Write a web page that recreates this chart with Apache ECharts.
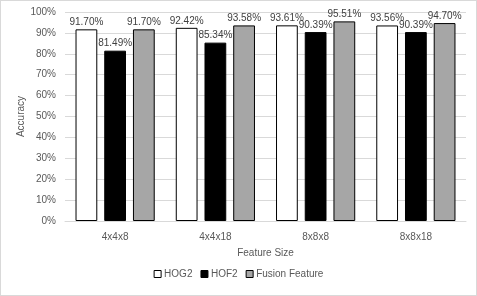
<!DOCTYPE html>
<html>
<head>
<meta charset="utf-8">
<script src="https://cdn.jsdelivr.net/npm/echarts@6/dist/echarts.min.js"></script>
<style>
html, body { margin: 0; padding: 0; background: #fff; }
#chart { width: 477px; height: 296px; box-sizing: border-box; border: 1px solid #d9d9d9; }
</style>
</head>
<body>
<div id="chart"></div>
<script>
const categories = ['4x4x8', '4x4x18', '8x8x8', '8x8x18'];
const hog2 = [91.70, 92.42, 93.61, 93.56];
const hof2 = [81.49, 85.34, 90.39, 90.39];
const fusion = [91.70, 93.58, 95.51, 94.70];
const seriesNames = ['HOG2', 'HOF2', 'Fusion Feature'];

const chart = echarts.init(document.getElementById('chart'));

const label = {
    show: true,
    position: 'top',
    distance: 2,
    color: '#404040',
    fontSize: 10,
    fontFamily: 'Liberation Sans',
    formatter: p => p.value.toFixed(2) + '%'
};

function bar(name, data, color) {
    return {
        name: name,
        type: 'bar',
        data: data,
        barGap: '32%',
        barCategoryGap: '21%',
        itemStyle: { color: color, borderColor: '#000', borderWidth: 1 },
        label: label
    };
}

chart.setOption({
    animation: false,
    textStyle: { fontFamily: 'Liberation Sans' },
    grid: { left: 64, right: 10, top: 11, bottom: 74 },
    legend: {
        bottom: 11,
        left: 'center',
        icon: 'rect',
        itemWidth: 7,
        itemHeight: 7,
        itemGap: 8,
        textStyle: { color: '#595959', fontSize: 10, padding: [0, 0, 0, -2] },
        data: seriesNames.map(n => ({ name: n, itemStyle: { borderColor: '#000', borderWidth: 1 } }))
    },
    xAxis: {
        type: 'category',
        data: categories,
        name: 'Feature Size',
        nameLocation: 'middle',
        nameGap: 27,
        nameTextStyle: { color: '#595959', fontSize: 10 },
        axisLine: { lineStyle: { color: '#d9d9d9' } },
        axisTick: { show: false },
        axisLabel: { color: '#595959', fontSize: 10, margin: 11 }
    },
    yAxis: {
        type: 'value',
        min: 0,
        max: 100,
        interval: 10,
        name: 'Accuracy',
        nameLocation: 'middle',
        nameGap: 39,
        nameMoveOverlap: false,
        nameTextStyle: { color: '#595959', fontSize: 10 },
        axisLine: { show: false },
        axisTick: { show: false },
        axisLabel: { color: '#595959', fontSize: 10, formatter: '{value}%', margin: 9 },
        splitLine: { lineStyle: { color: '#d9d9d9' } }
    },
    series: [
        bar(seriesNames[0], hog2, '#ffffff'),
        bar(seriesNames[1], hof2, '#000000'),
        bar(seriesNames[2], fusion, '#a6a6a6')
    ]
});
</script>
</body>
</html>
